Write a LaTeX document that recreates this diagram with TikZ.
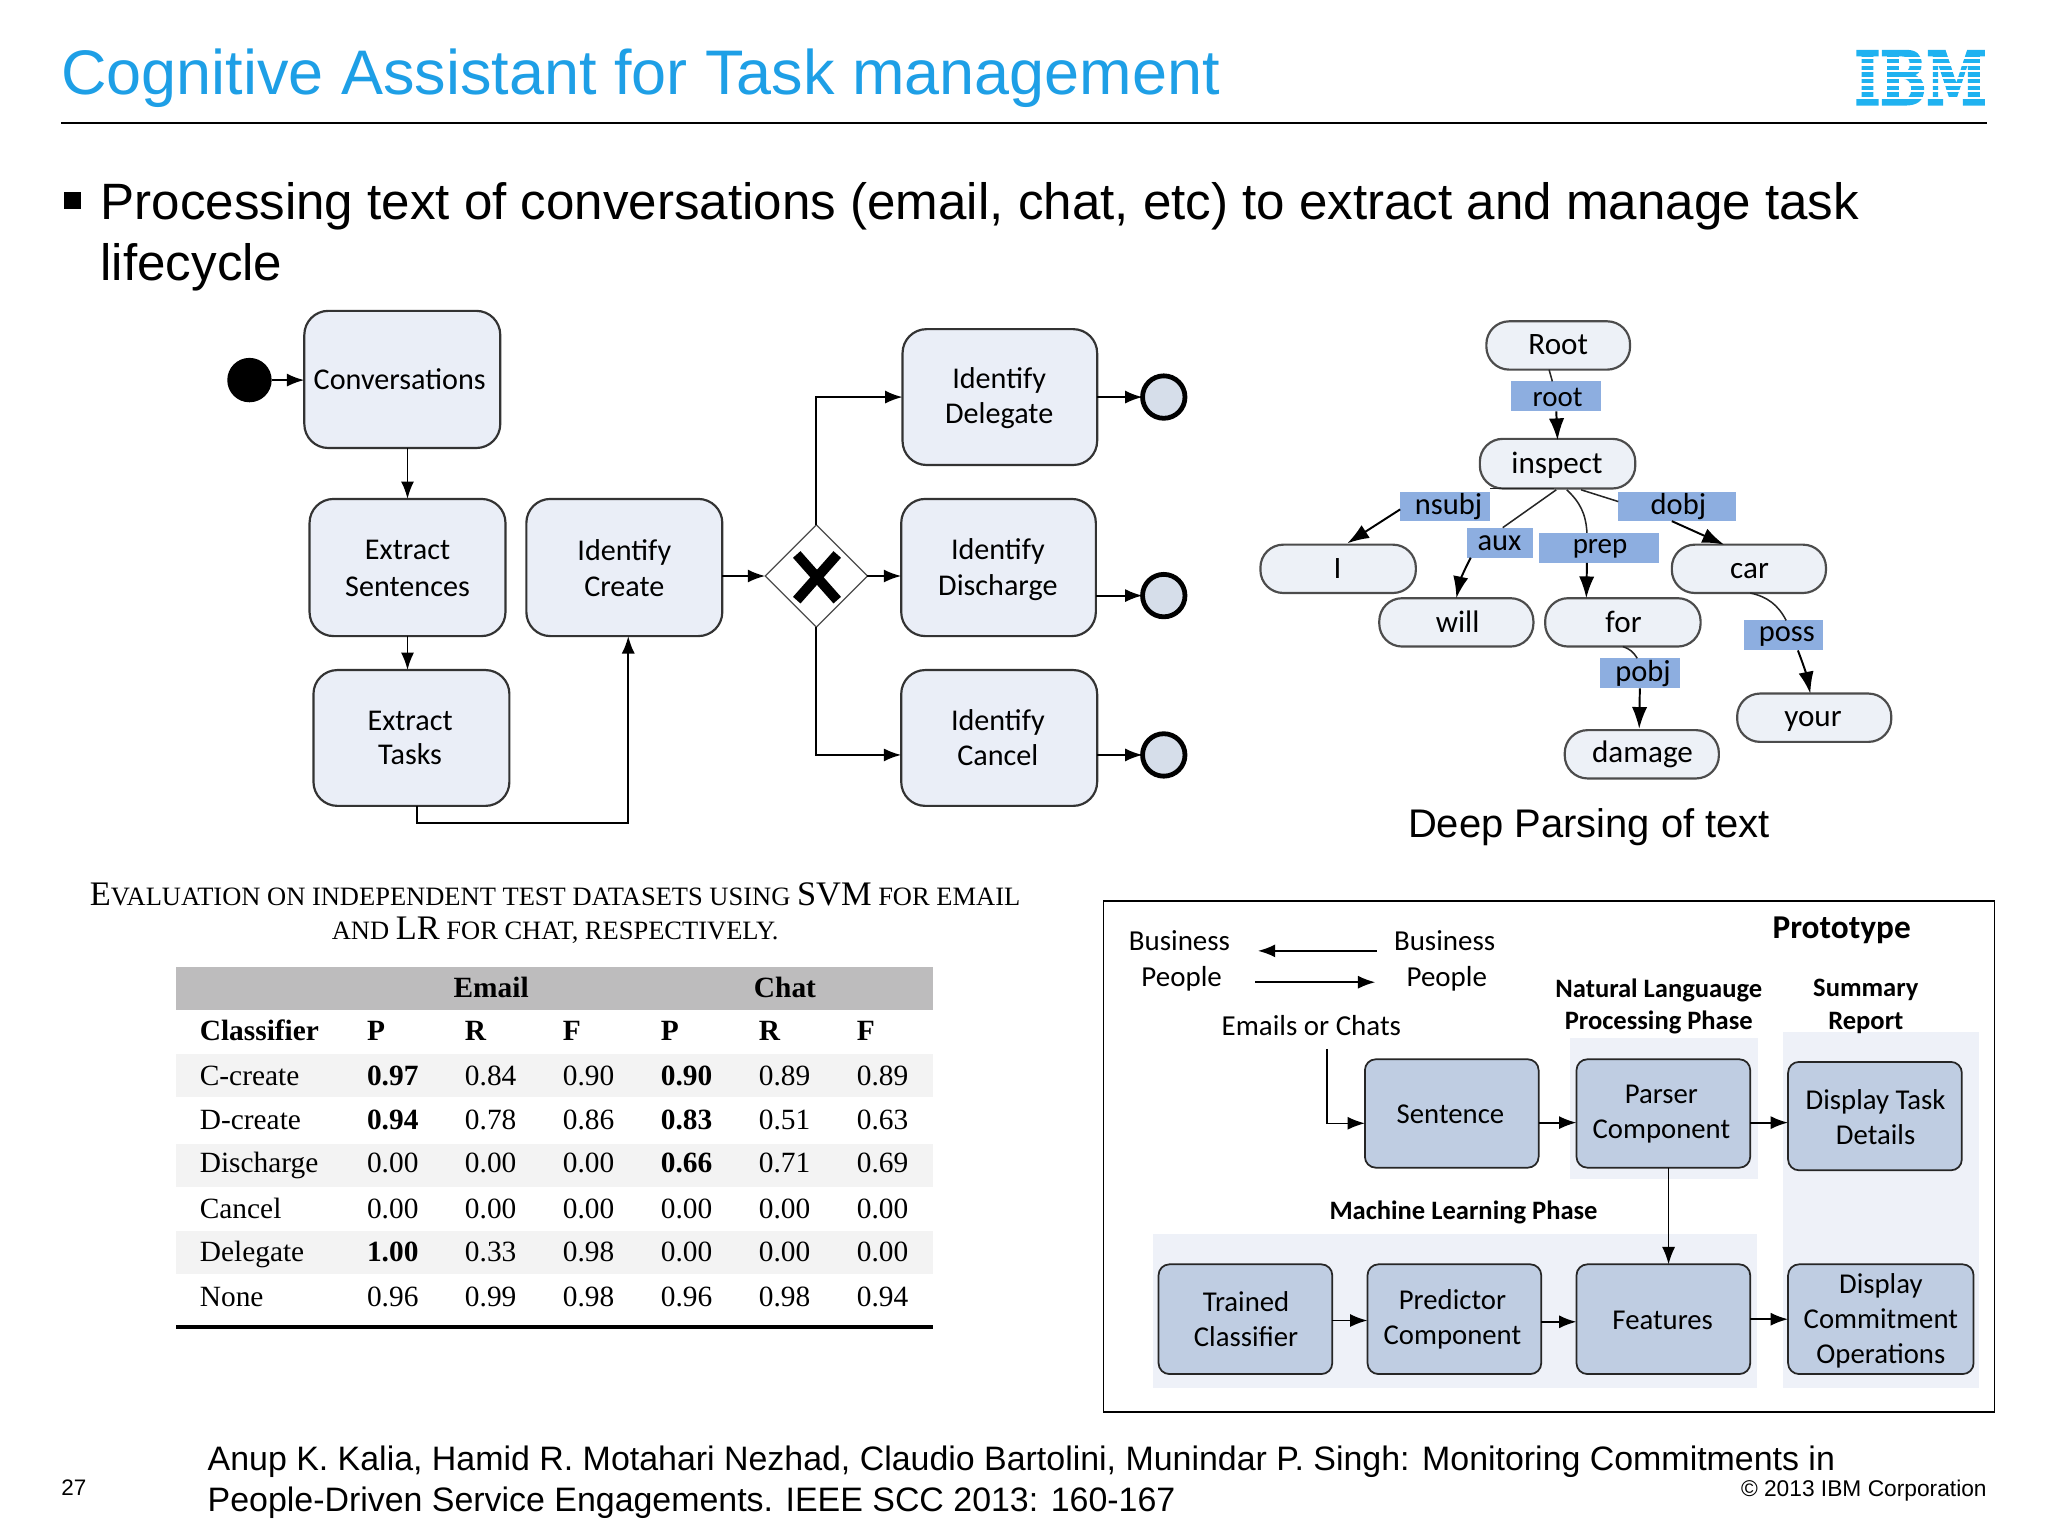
\documentclass[tikz,border=0pt]{standalone}
\usepackage{fontspec}
\usepackage{graphicx}
\setmainfont{Liberation Sans}
\newfontfamily\carl{Carlito}
\newfontfamily\tms{Liberation Serif}
\newfontfamily\ibmf[BoldFeatures={FakeBold=3}]{DejaVu Serif}
\usetikzlibrary{arrows.meta,fit,calc,shapes.geometric}
\definecolor{ibmblue}{HTML}{1E9FE6}
\definecolor{logoblue}{HTML}{1FB2F0}
\definecolor{bpfill}{HTML}{EAEEF7}
\definecolor{pillfill}{HTML}{EDF1F7}
\definecolor{lblblue}{HTML}{8DAEE0}
\definecolor{protofill}{HTML}{BFCDE2}
\definecolor{bandfill}{HTML}{EEF1F8}
\definecolor{endfill}{HTML}{D6DEEA}
\definecolor{hdrgray}{HTML}{BDBCBD}
\definecolor{stripe}{HTML}{F3F3F3}
\tikzset{
  every node/.style={inner sep=0pt,outer sep=0pt},
  tip/.style={-{Latex[length=8pt,width=6pt]}},
  conn/.style={tip,line width=0.9pt,black},
  depconn/.style={-{Latex[length=10pt,width=7pt]},line width=0.9pt,black},
  thinline/.style={line width=0.7pt,black!85},
  bp/.style={draw=black!80,fill=bpfill,line width=1pt,rounded corners=11pt},
  bpt/.style={align=center,font=\carl\fontsize{13.85}{16.6}\selectfont},
  pill/.style={draw=black!70,fill=pillfill,line width=1pt,rounded corners=10.5pt},
  pillt/.style={font=\carl\fontsize{14.3}{16}\selectfont},
  lbl/.style={fill=lblblue},
  lblt/.style={font=\carl\fontsize{14}{15}\selectfont},
  pr/.style={draw=black!85,fill=protofill,line width=0.8pt,rounded corners=5pt},
  prt/.style={align=center,font=\carl\fontsize{13.2}{16}\selectfont},
  band/.style={fill=bandfill},
  ctxt/.style={align=center,font=\carl\fontsize{13.3}{16}\selectfont},
  btxt/.style={align=center,font=\carl\bfseries\fontsize{12.2}{15}\selectfont},
  endev/.style={circle,draw=black,fill=endfill,line width=2.2pt,minimum size=19.5pt},
  cell/.style={anchor=base west,font=\tms\fontsize{13.5}{16}\selectfont},
}
\newcommand\trow[8]{%
  \node[cell] (r#1n) at (153,#1) {#2};
  \node[cell] (r#1a) at (281,#1) {#3};
  \node[cell] (r#1b) at (356,#1) {#4};
  \node[cell] (r#1c) at (431,#1) {#5};
  \node[cell] (r#1d) at (506,#1) {#6};
  \node[cell] (r#1e) at (581,#1) {#7};
  \node[cell] (r#1f) at (656,#1) {#8};
}
\newcommand\bg[1]{{\fontsize{15.8}{16}\selectfont #1}}
\begin{document}
\begin{tikzpicture}[x=0.6pt,y=-0.6pt]
\useasboundingbox (0,0) rectangle (1568,1176);
% header
\node[anchor=base west,text=ibmblue,font=\fontsize{28.93}{32}\selectfont] (title) at (47,72) {Cognitive Assistant for Task management};
\coordinate (ruleL) at (47,94); \coordinate (ruleR) at (1521,94);
\draw[line width=0.7pt] (ruleL) -- (ruleR);
% logo
\node[text=logoblue,font=\ibmf\bfseries,anchor=center] (logo) at (1470.5,59.5) {\resizebox{60.6pt}{24.6pt}{IBM}};
\foreach \yy in {43.4,48.5,53.6,58.7,63.8,68.9,74}{\fill[white] (1416,\yy) rectangle (1525,\yy+1.9);}
% bullet
\fill (49,147) rectangle (62,160);
\node[anchor=base west,font=\fontsize{23.48}{28}\selectfont] (bul1) at (77,168) {Processing text of conversations (email, chat, etc) to extract and manage task};
\node[anchor=base west,font=\fontsize{23.48}{28}\selectfont] (bul2) at (77,215) {lifecycle};
% BPMN
\node[circle,fill=black,minimum size=20.4pt] (start) at (191,291) {};
\node[bp,fit={(233,238)(383,343)}] (conv) {};
\node[bpt] (convt) at (306,290.5) {Conversations};
\node[bp,fit={(237,382)(387,487)}] (exs) {};
\node[bpt,font=\carl\fontsize{13.85}{16.8}\selectfont] (exst) at (312,435) {Extract\\Sentences};
\node[bp,fit={(403,382)(553,487)}] (idc) {};
\node[bpt,font=\carl\fontsize{13.85}{16.8}\selectfont] (idct) at (478,435) {Identify\\Create};
\node[bp,fit={(240,513)(390,617)}] (ext) {};
\node[bpt,font=\carl\fontsize{13.85}{16}\selectfont] (extt) at (314,565) {Extract\\Tasks};
\node[bp,fit={(691,252)(840,356)}] (idd) {};
\node[bpt,font=\carl\fontsize{13.85}{16.2}\selectfont] (iddt) at (765,305) {Identify\\Delegate};
\node[bp,fit={(690,382)(839,487)}] (idh) {};
\node[bpt,font=\carl\fontsize{13.85}{16.8}\selectfont] (idht) at (764,436) {Identify\\Discharge};
\node[bp,fit={(690,513)(840,617)}] (idx) {};
\node[bpt,font=\carl\fontsize{13.85}{16}\selectfont] (idxt) at (764,565) {Identify\\Cancel};
\node[diamond,aspect=1,draw=black!70,fill=white,line width=0.6pt,minimum size=47pt] (gate) at (625,441) {};
\coordinate (xa) at (610,424.5); \coordinate (xb) at (641,459.5);
\coordinate (xc) at (641,424.5); \coordinate (xd) at (610,459.5);
\draw[line width=4.6pt] (xa) -- (xb);
\draw[line width=4.6pt] (xc) -- (xd);
\node[endev] (e1) at (891,304) {};
\node[endev] (e2) at (891,456) {};
\node[endev] (e3) at (891,578) {};
\draw[conn] (start) -- (start -| conv.west);
\draw[conn] (exs.north |- conv.south) -- (exs.north);
\draw[conn] (exs.south) -- (exs.south |- ext.north);
\draw[conn] ($(ext.south)+(4,0)$) |- ($(idc.south)+(3,143)$) -- ($(idc.south)+(3,0)$);
\draw[conn] (idc.east |- gate.west) -- (gate.west);
\draw[conn] (gate.north) |- (idd.west);
\draw[conn] (gate.east) -- (gate.east -| idh.west);
\draw[conn] (gate.south) |- (idx.west |- e3.west);
\draw[conn] (idd.east |- e1.west) -- (e1.west);
\draw[conn] (idh.east |- e2.west) -- (e2.west);
\draw[conn] (idx.east |- e3.west) -- (e3.west);
% dependency tree
\node[pill,fit={(1138,246)(1248,283)}] (root) {};
\node[pillt] (roott) at (1193,264) {Root};
\node[pill,fit={(1133,336)(1252,374)}] (insp) {};
\node[pillt] (inspt) at (1192,356.5) {inspect};
\node[pill,fit={(965,417)(1084,454)}] (ni) {};
\node[pillt] (nit) at (1024,435) {I};
\node[pill,fit={(1056,458)(1174,495)}] (nwill) {};
\node[pillt] (nwillt) at (1116,476) {will};
\node[pill,fit={(1183,458)(1302,495)}] (nfor) {};
\node[pillt] (nfort) at (1243,476) {for};
\node[pill,fit={(1280,417)(1398,454)}] (ncar) {};
\node[pillt] (ncart) at (1339.5,437) {car};
\node[pill,fit={(1198,559)(1316,596)}] (ndam) {};
\node[pillt] (ndamt) at (1257.5,577.5) {damage};
\node[pill,fit={(1330,531)(1448,568)}] (nyour) {};
\node[pillt] (nyourt) at (1388,552) {your};
\node[lbl,fit={(1157,292)(1226,315)}] (lroot) {};
\node[lblt,font=\carl\fontsize{13.3}{15}\selectfont] (lroott) at (1192.5,304.5) {root};
\node[lbl,fit={(1072,377)(1141,399)}] (lnsubj) {};
\node[lblt] (lnsubjt) at (1109,388) {nsubj};
\node[lbl,fit={(1123,404)(1174,427)}] (laux) {};
\node[lblt] (lauxt) at (1148,416) {aux};
\node[lbl,fit={(1178,408)(1270,431)}] (lprep) {};
\node[lblt,font=\carl\fontsize{13.3}{15}\selectfont] (lprept) at (1225,420.5) {prep};
\node[lbl,fit={(1239,377)(1329,399)}] (ldobj) {};
\node[lblt] (ldobjt) at (1285,387.5) {dobj};
\node[lbl,fit={(1335,475)(1396,498)}] (lposs) {};
\node[lblt] (lposst) at (1368,487) {poss};
\node[lbl,fit={(1225,504)(1286,527)}] (lpobj) {};
\node[lblt] (lpobjt) at (1258,516) {pobj};
% root
\draw[thinline] ($(root.south)+(-7,0)$) -- ($(lroot.north)+(-3,0)$);
\draw[depconn] (lroot.south) -- ($(insp.north)+(0,1)$);
% nsubj
\draw[thinline] ($(insp.south)+(-3,0)$) -- ($(lnsubj.north east)+(0,-3)$);
\draw[depconn] ($(lnsubj.west)+(0,2)$) -- ($(ni.north)+(7,-1)$);
% aux
\draw[thinline] ($(insp.south)+(-1,1)$) -- ($(laux.north)+(2,0)$);
\draw[depconn] ($(laux.south west)+(3,0)$) to[bend right=8] ($(nwill.north)+(0,0)$);
% prep
\draw[thinline] ($(insp.south)+(7,1)$) to[bend left=22] ($(lprep.north)+(-9,0)$);
\draw[depconn] ($(lprep.south)+(-9,0)$) -- ($(nfor.north)+(-28,0)$);
% dobj
\draw[thinline] ($(insp.south)+(18,1)$) -- ($(ldobj.west)+(0,-4)$);
\draw[depconn] ($(ldobj.south)+(-4,0)$) -- ($(ncar.north)+(-19,0)$);
% poss
\draw[thinline] ($(ncar.south)+(1,0)$) to[bend left=25] ($(lposs.north)+(2,0)$);
\draw[depconn] ($(lposs.south)+(11,0)$) to[bend left=5] ($(nyour.north)+(-3,0)$);
% pobj
\draw[thinline] (nfor.south) to[bend left=20] ($(lpobj.north)+(-2,0)$);
\draw[depconn] (lpobj.south) -- ($(ndam.north)+(-2,-1)$);
\node[anchor=base west,font=\fontsize{18.35}{22}\selectfont] (deep) at (1078,641) {Deep Parsing of text};
% table caption
\node[anchor=base,font=\tms\fontsize{12.17}{14}\selectfont] (cap1) at (425,693) {\bg{E}VALUATION ON INDEPENDENT TEST DATASETS USING \bg{SVM} FOR EMAIL};
\node[anchor=base,font=\tms\fontsize{12.17}{14}\selectfont] (cap2) at (425,719) {AND \bg{LR} FOR CHAT, RESPECTIVELY.};
% table
\fill[hdrgray] (135,740) rectangle (714,773);
\fill[stripe] (135,807) rectangle (714,840);
\fill[stripe] (135,876) rectangle (714,908.5);
\fill[stripe] (135,942.5) rectangle (714,975.5);
\coordinate (tl) at (135,1016); \coordinate (tr) at (714,1016);
\draw[line width=1.5pt] (tl) -- (tr);
\node[anchor=base,font=\tms\bfseries\fontsize{13.5}{16}\selectfont] (hemail) at (376,764) {Email};
\node[anchor=base,font=\tms\bfseries\fontsize{13.5}{16}\selectfont] (hchat) at (601,764) {Chat};
\trow{797}{\textbf{Classifier}}{\textbf{P}}{\textbf{R}}{\textbf{F}}{\textbf{P}}{\textbf{R}}{\textbf{F}}
\trow{831}{C-create}{\textbf{0.97}}{0.84}{0.90}{\textbf{0.90}}{0.89}{0.89}
\trow{865}{D-create}{\textbf{0.94}}{0.78}{0.86}{\textbf{0.83}}{0.51}{0.63}
\trow{898}{Discharge}{0.00}{0.00}{0.00}{\textbf{0.66}}{0.71}{0.69}
\trow{933}{Cancel}{0.00}{0.00}{0.00}{0.00}{0.00}{0.00}
\trow{966}{Delegate}{\textbf{1.00}}{0.33}{0.98}{0.00}{0.00}{0.00}
\trow{1000}{None}{0.96}{0.99}{0.98}{0.96}{0.98}{0.94}
% prototype panel
\draw[line width=0.7pt,fill=white] (845,690) rectangle (1527,1081);
\fill[band] (1202,795) rectangle (1346,903);
\fill[band] (1365,790) rectangle (1515,1063);
\fill[band] (883,945) rectangle (1345,1063);
\node[pr,fit={(1045,811)(1178,894)}] (sent) {};
\node[prt] (sentt) at (1110.5,853) {Sentence};
\node[pr,fit={(1207,811)(1340,894)}] (pars) {};
\node[prt] (parst) at (1272,853) {Parser\\Component};
\node[pr,fit={(1369,813)(1502,896)}] (disp) {};
\node[prt] (dispt) at (1436,855) {Display Task\\Details};
\node[pr,fit={(887,968)(1020,1052)}] (trc) {};
\node[prt] (trct) at (954,1010) {Trained\\Classifier};
\node[pr,fit={(1047,968)(1180,1052)}] (pred) {};
\node[prt] (predt) at (1112,1010) {Predictor\\Component};
\node[pr,fit={(1207,968)(1340,1052)}] (feat) {};
\node[prt] (featt) at (1273,1011) {Features};
\node[pr,fit={(1369,968)(1511,1052)}] (dco) {};
\node[prt] (dcot) at (1440,1011) {Display\\Commitment\\Operations};
\node[ctxt] (bp1) at (903,736) {Business\\[0.5pt]\hspace*{2pt}People};
\node[ctxt] (bp2) at (1106,736) {Business\\[0.5pt]\hspace*{2pt}People};
\node[ctxt] (emails) at (1004,785.5) {Emails or Chats};
\node[btxt,font=\carl\bfseries\fontsize{15.3}{17}\selectfont] (proto) at (1410,712) {Prototype};
\node[btxt] (nlp) at (1270,770.5) {Natural Languauge\\Processing Phase};
\node[btxt] (summ) at (1428.5,770.5) {Summary\\Report};
\node[btxt] (mlp) at (1120.5,928.5) {Machine Learning Phase};
\coordinate (a1s) at (1054,728); \coordinate (a1e) at (963,728);
\coordinate (a2s) at (961,752); \coordinate (a2e) at (1053,752);
\coordinate (emin) at (1016,803);
\draw[conn] (a1s) -- (a1e);
\draw[conn] (a2s) -- (a2e);
\draw[conn,line width=0.7pt] (emin) |- ($(sent.west)+(0,7.5)$);
\draw[conn] ($(sent.east)+(0,7)$) -- ($(pars.west)+(0,7)$);
\draw[conn] ($(pars.east)+(0,7)$) -- ($(disp.west)+(0,5)$);
\draw[conn,line width=0.7pt] ($(pars.south)+(4,0)$) -- ($(feat.north)+(4,0)$);
\draw[conn] ($(trc.east)+(0,1)$) -- ($(pred.west)+(0,1)$);
\draw[conn] ($(pred.east)+(0,2)$) -- ($(feat.west)+(0,2)$);
\draw[conn] (feat.east) -- (dco.west);
% footer
\node[anchor=base west,font=\fontsize{15.58}{19}\selectfont] (ref1) at (159,1126) {Anup K. Kalia, Hamid R. Motahari Nezhad, Claudio Bartolini, Munindar P. Singh: Monitoring Commitments in};
\node[anchor=base west,font=\fontsize{15.58}{19}\selectfont] (ref2) at (159,1157) {People-Driven Service Engagements. IEEE SCC 2013: 160-167};
\node[anchor=base west,font=\fontsize{10.3}{12}\selectfont] (pg) at (47,1145) {27};
\node[anchor=base east,font=\fontsize{10.45}{12}\selectfont] (copy) at (1521,1146) {© 2013 IBM Corporation};
\end{tikzpicture}
\end{document}
